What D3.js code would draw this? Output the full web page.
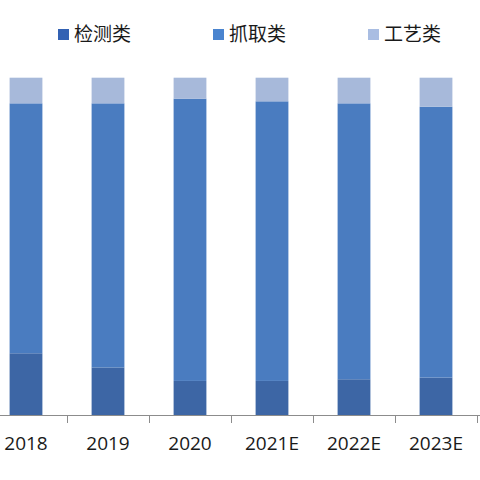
<!DOCTYPE html>
<html>
<head>
<meta charset="utf-8">
<script src="https://cdn.jsdelivr.net/npm/d3@7"></script>
<style>
  body { margin: 0; background: #fff; }
</style>
</head>
<body>
<div id="chart"></div>
<script>
const years = ["2018", "2019", "2020", "2021E", "2022E", "2023E"];
const seriesNames = ["检测类", "抓取类", "工艺类"];
const jianCe = [18.3, 14.1, 10.1, 10.1, 10.6, 11.1];
const zhuaQu = [74.1, 78.3, 83.7, 82.9, 81.8, 80.3];
const gongYi = [7.6, 7.6, 6.2, 7.0, 7.6, 8.6];

const colors = ["#3d66a5", "#4a7cc0", "#a7b9da"];
const legendColors = ["#3261b3", "#4a84cf", "#a9bde2"];

const size = { width: 480, height: 480 };
const svg = d3.select("#chart").append("svg")
  .attr("width", size.width)
  .attr("height", size.height);

const rows = years.map((y, i) => ({
  year: y,
  [seriesNames[0]]: jianCe[i],
  [seriesNames[1]]: zhuaQu[i],
  [seriesNames[2]]: gongYi[i],
}));

const stack = d3.stack().keys(seriesNames);
const layers = stack(rows);

// plot area is cut off at the left, so the band range starts off-screen
const x = d3.scaleBand()
  .domain(years)
  .range([-15, 477])
  .paddingInner(0.6)
  .paddingOuter(0.3);

const y = d3.scaleLinear().domain([0, 100]).range([415, 77.7]);

svg.selectAll("g.layer")
  .data(layers)
  .join("g")
  .attr("class", "layer")
  .attr("fill", (d, i) => colors[i])
  .selectAll("rect")
  .data((d) => d)
  .join("rect")
  .attr("x", (d) => x(d.data.year))
  .attr("width", x.bandwidth())
  .attr("y", (d) => y(d[1]))
  .attr("height", (d) => y(d[0]) - y(d[1]));

// axis line with ticks between categories
const step = x.step();
const bounds = [x(years[0]) - step * 0.3].concat(
  years.map((d) => x(d) + x.bandwidth() + step * 0.3)
);

svg.append("line")
  .attr("x1", 0)
  .attr("x2", 480)
  .attr("y1", 415.5)
  .attr("y2", 415.5)
  .attr("stroke", "#8c8c8c")
  .attr("stroke-width", 1);

svg.selectAll("line.tick")
  .data(bounds)
  .join("line")
  .attr("class", "tick")
  .attr("x1", (d) => Math.round(d) + 0.5)
  .attr("x2", (d) => Math.round(d) + 0.5)
  .attr("y1", 415)
  .attr("y2", 423)
  .attr("stroke", "#8c8c8c")
  .attr("stroke-width", 1);

svg.selectAll("text.year")
  .data(years)
  .join("text")
  .attr("class", "year")
  .attr("x", (d) => x(d) + x.bandwidth() / 2)
  .attr("y", 450)
  .attr("text-anchor", "middle")
  .attr("fill", "#1a1a1a")
  .style("font-family", "'Open Sans', 'Noto Sans', sans-serif")
  .style("font-size", "19px")
  .text((d) => d);

// legend
const legendX = [58, 213, 368];
const legend = svg.selectAll("g.legend")
  .data(seriesNames)
  .join("g")
  .attr("class", "legend")
  .attr("transform", (d, i) => `translate(${legendX[i]},29)`);

legend.append("rect")
  .attr("width", 11)
  .attr("height", 11)
  .attr("fill", (d, i) => legendColors[i]);

legend.append("text")
  .attr("x", 16)
  .attr("y", 12)
  .attr("fill", "#1a1a1a")
  .style("font-family", "'Noto Sans CJK SC', sans-serif")
  .style("font-size", "19px")
  .text((d) => d);
</script>
</body>
</html>
